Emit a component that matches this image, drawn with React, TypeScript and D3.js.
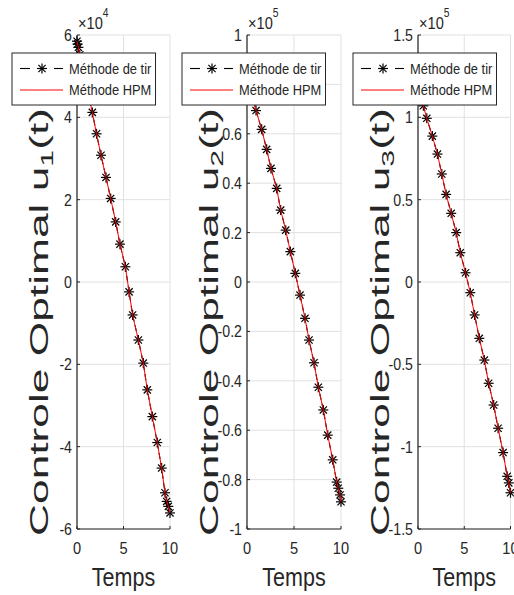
import React from "react";
import * as d3 from "d3";

// ---- data (values in units of the axis exponent) ----
const tShoot1 = [0, 0.06, 0.15, 0.3, 0.6, 1.1, 1.65, 2.1, 2.58, 3.12, 3.62, 4.16, 4.62, 5.2, 5.6, 5.98, 6.6, 7.13, 7.56, 8.1, 8.63, 9.1, 9.46, 9.64, 9.82, 10];
const u1 = [5.85, 5.78, 5.7, 5.52, 5.2, 4.68, 4.12, 3.6, 3.08, 2.54, 2.03, 1.46, 0.92, 0.37, -0.24, -0.8, -1.41, -1.97, -2.62, -3.27, -3.9, -4.52, -5.12, -5.33, -5.45, -5.61];

const tShoot2 = [0, 0.06, 0.15, 0.3, 0.5, 0.96, 1.56, 2.09, 2.55, 3.16, 3.58, 4.12, 4.61, 5.14, 5.64, 6.17, 6.6, 7.13, 7.59, 8.12, 8.59, 9.12, 9.54, 9.71, 9.9, 10];
const u2 = [0.85, 0.842, 0.83, 0.81, 0.77, 0.694, 0.618, 0.537, 0.46, 0.379, 0.291, 0.21, 0.123, 0.035, -0.053, -0.147, -0.235, -0.327, -0.426, -0.518, -0.62, -0.72, -0.81, -0.835, -0.862, -0.89];

const tShoot3 = [0, 0.06, 0.15, 0.3, 0.58, 0.95, 1.55, 2.1, 2.57, 3.04, 3.59, 4.13, 4.57, 5.14, 5.65, 6.12, 6.63, 7.17, 7.64, 8.18, 8.66, 9.2, 9.64, 9.82, 10];
const u3 = [1.19, 1.18, 1.16, 1.13, 1.07, 0.994, 0.886, 0.777, 0.656, 0.532, 0.417, 0.3, 0.178, 0.056, -0.065, -0.2, -0.342, -0.474, -0.615, -0.747, -0.888, -1.036, -1.18, -1.22, -1.28];

const xTicks = [0, 5, 10];
const yTicks1 = [-6, -4, -2, 0, 2, 4, 6];
const yTicks2 = [-1, -0.8, -0.6, -0.4, -0.2, 0, 0.2, 0.4, 0.6, 0.8, 1];
const yTicks3 = [-1.5, -1, -0.5, 0, 0.5, 1, 1.5];
const exponents = ["4", "5", "5"];
const subscripts = ["1", "2", "3"];
const legendLabels = ["Méthode de tir", "Méthode HPM"];
const xLabel = "Temps";
const yLabelBase = "Controle Optimal u";

const panels = [
  { t: tShoot1, u: u1, ticks: yTicks1, exp: exponents[0], sub: subscripts[0], left: 77, right: 170 },
  { t: tShoot2, u: u2, ticks: yTicks2, exp: exponents[1], sub: subscripts[1], left: 247, right: 341 },
  { t: tShoot3, u: u3, ticks: yTicks3, exp: exponents[2], sub: subscripts[2], left: 418, right: 510.5 },
];

const TOP = 35;
const BOTTOM = 529;
const FONT = "'Liberation Sans', Arial, sans-serif";
const AX = "#262626";
const GRID = "#e1e1e1";
const SQ = 0.86; // horizontal squeeze of the original picture

function SText({ x, y, anchor = "start", size, fill = AX, dy, children }: any) {
  return (
    <text
      transform={`translate(${x},${y}) scale(${SQ},1)`}
      textAnchor={anchor}
      fontSize={size}
      fill={fill}
      fontFamily={FONT}
      dy={dy}
    >
      {children}
    </text>
  );
}

function Star({ x, y }: { x: number; y: number }) {
  const a = 5;
  const b = 3.6;
  return (
    <g stroke="#000" strokeWidth={1.2}>
      <line x1={x - a} y1={y} x2={x + a} y2={y} />
      <line x1={x} y1={y - a} x2={x} y2={y + a} />
      <line x1={x - b} y1={y - b} x2={x + b} y2={y + b} />
      <line x1={x - b} y1={y + b} x2={x + b} y2={y - b} />
    </g>
  );
}

function Panel({ p }: { p: typeof panels[number] }) {
  const x = d3.scaleLinear().domain([0, 10]).range([p.left, p.right]);
  const ext = d3.extent(p.ticks) as [number, number];
  const y = d3.scaleLinear().domain(ext).range([BOTTOM, TOP]);
  const pts = p.t.map((t, i) => [t, p.u[i]] as [number, number]);
  const line = d3.line<[number, number]>().x((d) => x(d[0])).y((d) => y(d[1]));
  const path = line(pts) || "";
  const lx = p.left - 65;
  const ly = 53;
  const lw = 143.5;
  const lh = 52;
  const ylabX = p.left - 29;
  const ylabCy = 322;
  return (
    <g>
      {/* grid */}
      {xTicks.map((t) => (
        <line key={"gx" + t} x1={x(t)} x2={x(t)} y1={TOP} y2={BOTTOM} stroke={GRID} strokeWidth={1} />
      ))}
      {p.ticks.map((t) => (
        <line key={"gy" + t} x1={p.left} x2={p.right} y1={y(t)} y2={y(t)} stroke={GRID} strokeWidth={1} />
      ))}
      {/* axes */}
      <line x1={p.left} x2={p.left} y1={TOP} y2={BOTTOM} stroke={AX} strokeWidth={1.2} />
      <line x1={p.left} x2={p.right} y1={BOTTOM} y2={BOTTOM} stroke={AX} strokeWidth={1.2} />
      {p.ticks.map((t) => (
        <g key={"ty" + t}>
          <line x1={p.left} x2={p.left + 3} y1={y(t)} y2={y(t)} stroke={AX} strokeWidth={1} />
          <SText x={p.left - 5} y={y(t)} dy="0.36em" anchor="end" size={16.5}>
            {String(t)}
          </SText>
        </g>
      ))}
      {xTicks.map((t) => (
        <g key={"tx" + t}>
          <line x1={x(t)} x2={x(t)} y1={BOTTOM} y2={BOTTOM - 3} stroke={AX} strokeWidth={1} />
          <SText x={x(t)} y={554} anchor="middle" size={17}>
            {String(t)}
          </SText>
        </g>
      ))}
      {/* exponent */}
      <SText x={p.left + 1} y={29} size={17}>
        ×10
        <tspan fontSize={12} dy={-12}>{p.exp}</tspan>
      </SText>
      {/* data */}
      <path d={path} fill="none" stroke="#000" strokeWidth={1.1} strokeDasharray="6,4" />
      {pts.map((d, i) => (
        <Star key={i} x={x(d[0])} y={y(d[1])} />
      ))}
      <path d={path} fill="none" stroke="#ff0000" strokeWidth={1} />
      {/* labels */}
      <SText x={(p.left + p.right) / 2} y={586} anchor="middle" size={25}>
        {xLabel}
      </SText>
      <text
        transform={`translate(${ylabX},${ylabCy}) rotate(-90)`}
        textAnchor="middle"
        fontSize={25}
        fill={AX}
        fontFamily={FONT}
        textLength={428}
        lengthAdjust="spacingAndGlyphs"
      >
        {yLabelBase}
        <tspan fontSize={17} dy={5}>{p.sub}</tspan>
        <tspan fontSize={25} dy={-5}>(t)</tspan>
      </text>
      {/* legend */}
      <rect x={lx} y={ly} width={lw} height={lh} fill="#fff" stroke={AX} strokeWidth={1} />
      <line x1={lx + 8} x2={lx + 18} y1={ly + 15.5} y2={ly + 15.5} stroke="#000" strokeWidth={1.1} />
      <line x1={lx + 42} x2={lx + 51} y1={ly + 15.5} y2={ly + 15.5} stroke="#000" strokeWidth={1.1} />
      <Star x={lx + 30} y={ly + 15.5} />
      <SText x={lx + 57} y={ly + 15.5} dy="0.36em" size={15}>
        {legendLabels[0]}
      </SText>
      <line x1={lx + 8} x2={lx + 51} y1={ly + 37} y2={ly + 37} stroke="#ff0000" strokeWidth={1} />
      <SText x={lx + 57} y={ly + 37} dy="0.36em" size={15}>
        {legendLabels[1]}
      </SText>
    </g>
  );
}

export default function App() {
  return (
    <svg width={514} height={595} style={{ position: "absolute", left: 0, top: 0, background: "#fff" }}>
      <rect x={0} y={0} width={514} height={595} fill="#fff" />
      {panels.map((p, i) => (
        <Panel key={i} p={p} />
      ))}
    </svg>
  );
}
